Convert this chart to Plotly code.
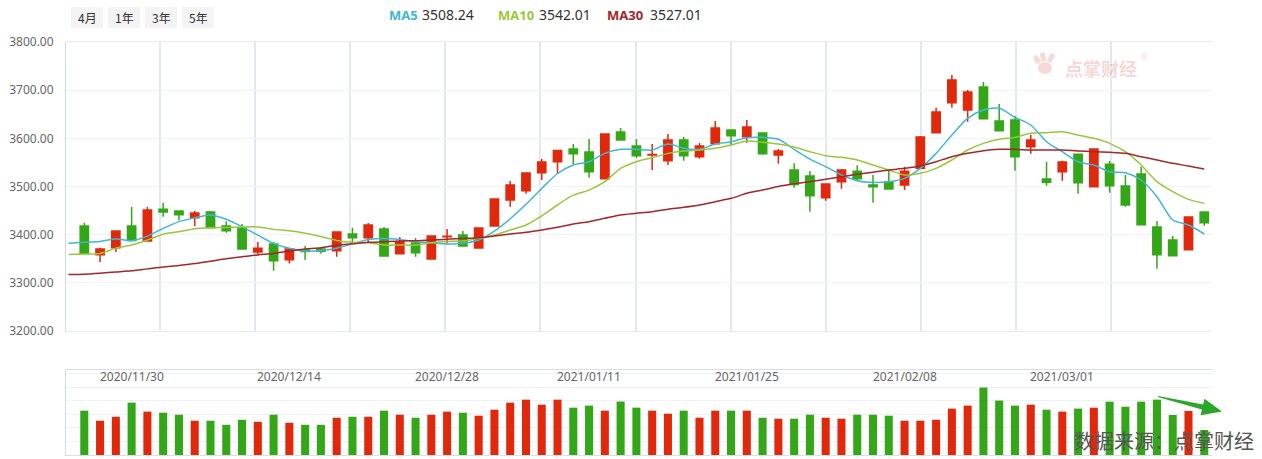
import plotly.graph_objects as go

# ---------------- data ----------------
# first date is only partly in view: its candle lies outside, its MA values start the lines
dates = [
    "2020/11/24",
    "2020/11/25", "2020/11/26", "2020/11/27", "2020/11/30",
    "2020/12/01", "2020/12/02", "2020/12/03", "2020/12/04",
    "2020/12/07", "2020/12/08", "2020/12/09", "2020/12/10", "2020/12/11",
    "2020/12/14", "2020/12/15", "2020/12/16", "2020/12/17", "2020/12/18",
    "2020/12/21", "2020/12/22", "2020/12/23", "2020/12/24", "2020/12/25",
    "2020/12/28", "2020/12/29", "2020/12/30", "2020/12/31",
    "2021/01/04", "2021/01/05", "2021/01/06", "2021/01/07", "2021/01/08",
    "2021/01/11", "2021/01/12", "2021/01/13", "2021/01/14", "2021/01/15",
    "2021/01/18", "2021/01/19", "2021/01/20", "2021/01/21", "2021/01/22",
    "2021/01/25", "2021/01/26", "2021/01/27", "2021/01/28", "2021/01/29",
    "2021/02/01", "2021/02/02", "2021/02/03", "2021/02/04", "2021/02/05",
    "2021/02/08", "2021/02/09", "2021/02/10", "2021/02/18", "2021/02/19",
    "2021/02/22", "2021/02/23", "2021/02/24", "2021/02/25", "2021/02/26",
    "2021/03/01", "2021/03/02", "2021/03/03", "2021/03/04", "2021/03/05",
    "2021/03/08", "2021/03/09", "2021/03/10", "2021/03/11", "2021/03/12",
]

opens = [None,
         3418, 3358.5, 3373, 3418, 3387, 3453, 3449, 3435, 3447, 3418,
         3414.5, 3364, 3380.6, 3348, 3368, 3370, 3366.8, 3401.4, 3393.7, 3411.7,
         3360.5, 3382.7, 3349.4, 3395.5, 3399.3, 3372.3, 3418, 3471.9, 3491, 3528.7,
         3551.5, 3577.8, 3571.6, 3516.2, 3613.1, 3584, 3565.4, 3553.6, 3596.5, 3561.9,
         3588.9, 3617.3, 3603.4, 3611, 3565.4, 3534.2, 3521.8, 3476.8, 3510, 3531.5,
         3503, 3509.3, 3503.1, 3537.7, 3611.7, 3674, 3658.8, 3706.5, 3636, 3638,
         3582.7, 3515.6, 3530.8, 3566.8, 3499.6, 3546, 3501, 3526, 3415.9, 3388.9,
         3368.9, 3447]
highs = [None,
         3425, 3373, 3408, 3457.5, 3457.5, 3466, 3450, 3449, 3449, 3428,
         3422, 3385, 3385, 3370, 3376.5, 3374, 3405.5, 3414.5, 3424.2, 3415.9,
         3395, 3393, 3397.2, 3411.7, 3407.6, 3414, 3474, 3511.4, 3528, 3557,
         3575, 3588.2, 3598.6, 3609, 3621.4, 3598.6, 3588.2, 3609, 3602.7, 3590.3,
         3636, 3617.3, 3638, 3611, 3577.8, 3548.5, 3532.2, 3505.2, 3536.3, 3543.9,
         3523.9, 3535.6, 3541.2, 3604.8, 3663.6, 3731.5, 3700.3, 3716.9, 3671.3, 3646.3,
         3607.6, 3550.8, 3553.6, 3566.8, 3577.8, 3553, 3523.9, 3541.2, 3428.4, 3397.2,
         3436.7, 3447]
lows = [None,
        3361, 3343, 3364, 3388, 3387, 3437, 3430, 3418, 3414, 3404,
        3370, 3358.5, 3325, 3340, 3347.5, 3360.5, 3354.4, 3383.4, 3382.7, 3354.3,
        3360.5, 3354.3, 3348, 3382, 3376, 3372, 3418, 3458, 3485, 3513.5,
        3526, 3546.7, 3518.3, 3516, 3596.5, 3559.8, 3534.2, 3544.6, 3553.6, 3557.7,
        3588.9, 3586, 3591, 3566, 3547.4, 3497.5, 3447.8, 3470.6, 3495.5, 3510.7,
        3466.4, 3493.4, 3492.7, 3537.7, 3611.7, 3663.6, 3634.6, 3640.8, 3615.9, 3532.9,
        3568.1, 3501.7, 3512.1, 3485.1, 3499.6, 3487.2, 3458.1, 3420.7, 3329.4, 3356.4,
        3368.9, 3418.7]
closes = [None,
          3361, 3370, 3407.6, 3388, 3451, 3447, 3441.5, 3445, 3414.5, 3408,
          3370, 3372, 3346, 3370, 3365, 3365.5, 3405.5, 3393.8, 3420, 3355.7,
          3385.4, 3362.6, 3397.2, 3396.5, 3376.4, 3413.8, 3474, 3503, 3528, 3550.8,
          3575, 3568.1, 3530.8, 3609, 3596.5, 3564, 3566.5, 3596.5, 3564, 3584,
          3621.4, 3605.5, 3623.5, 3568.1, 3573.7, 3504, 3481, 3505.2, 3534.2, 3516.2,
          3499.6, 3494.8, 3531.5, 3602.7, 3654.6, 3721, 3696.2, 3640.8, 3615.9, 3561.9,
          3596.5, 3508.6, 3550.8, 3508, 3577.8, 3501.7, 3461.6, 3420.7, 3358.5, 3356.4,
          3436.7, 3424.9]
volumes = [None,
           3.26, 2.52, 2.81, 3.85, 3.19, 3.11, 2.96, 2.52, 2.52, 2.22,
           2.59, 2.44, 2.96, 2.37, 2.22, 2.22, 2.74, 2.81, 2.81, 3.26,
           2.96, 2.74, 2.96, 3.19, 3.11, 2.89, 3.33, 3.85, 4.07, 3.70,
           4.07, 3.48, 3.63, 3.26, 3.93, 3.48, 3.26, 3.04, 3.26, 2.74,
           3.26, 3.26, 3.26, 2.74, 2.67, 2.67, 2.96, 2.74, 2.67, 2.96,
           2.96, 2.89, 2.52, 2.52, 2.59, 3.41, 3.63, 4.96, 4.00, 3.63,
           3.70, 3.33, 3.19, 3.41, 3.48, 3.92, 3.55, 3.92, 4.07, 2.94,
           3.24, 1.84]
ma5 = [3382,
       3384, 3386, 3391, 3387.5, 3397, 3413, 3427, 3435, 3441, 3432,
       3416.6, 3399, 3382, 3372, 3366, 3367, 3372, 3381, 3390, 3392.3,
       3390, 3385.4, 3383.3, 3380.6, 3382, 3389, 3407.6, 3433, 3463, 3496,
       3527, 3544.6, 3551.5, 3568.8, 3577.1, 3577.1, 3575.7, 3588.2, 3579.2, 3577.1,
       3588.2, 3593, 3601.3, 3602, 3598, 3577, 3557, 3541.2, 3523.9, 3512.1,
       3508.6, 3510, 3516.9, 3537.7, 3568.8, 3606.9, 3641.5, 3658.8, 3662.3, 3643.6,
       3627.7, 3593, 3572.3, 3551.5, 3544.6, 3530.8, 3528.7, 3513.5, 3478.9, 3430.4,
       3420, 3401.4]
ma10 = [3359,
        3360, 3361, 3372, 3378.6, 3389, 3401, 3406, 3412.5, 3414.5, 3415,
        3416, 3416, 3411, 3408, 3403, 3396, 3388, 3384, 3383.3, 3378.5,
        3378.5, 3378.5, 3383.3, 3386, 3386.8, 3392.3, 3399.3, 3409.6, 3420, 3439,
        3461.6, 3482, 3492.5, 3510, 3537.7, 3551.5, 3559.8, 3568.8, 3573.7, 3575.7,
        3579.2, 3586.1, 3594.4, 3591.7, 3588, 3582, 3572.3, 3564, 3560.5, 3555,
        3544.6, 3534.2, 3523.9, 3527.3, 3537.7, 3555, 3575.8, 3589.6, 3597.9, 3602,
        3610.4, 3611.7, 3613.8, 3606.9, 3600, 3589.6, 3572.3, 3544.6, 3510, 3489.3,
        3473.3, 3465]
ma30 = [3317.5,
        3318, 3320, 3322.5, 3325, 3329, 3333, 3336, 3340, 3345, 3350,
        3354, 3358, 3361, 3366, 3370, 3373, 3378, 3381, 3384, 3385.4,
        3386.8, 3387.5, 3389, 3390.3, 3392.3, 3393.7, 3397.2, 3401.3, 3404.8, 3409.6,
        3415.2, 3422, 3427, 3433.9, 3440.8, 3444.3, 3447.7, 3452.6, 3456.7, 3461.6,
        3468.5, 3475.4, 3485.8, 3492.7, 3500, 3505.5, 3510, 3514.9, 3520.4, 3525.2,
        3529.4, 3534.2, 3537.7, 3542.5, 3551.5, 3561.9, 3568.8, 3574.4, 3577.1, 3577.1,
        3575.8, 3575.8, 3575.8, 3573.7, 3572.3, 3570.9, 3568.8, 3561.9, 3555, 3548.1,
        3542.5, 3536.3]

axis_dates = ["2020/11/30", "2020/12/14", "2020/12/28", "2021/01/11",
              "2021/01/25", "2021/02/08", "2021/03/01"]
ma_names = ["MA5", "MA10", "MA30"]
ma_legend_values = ["3508.24", "3542.01", "3527.01"]
y_ticks = [3200, 3300, 3400, 3500, 3600, 3700, 3800]
range_buttons = ["4月", "1年", "3年", "5年"]
source_text = "数据来源：点掌财经"
logo_text = "点掌财经"

# ---------------- style ----------------
RED = "#e0290c"
GREEN = "#34a718"
MA_COLORS = ["#3fb5d8", "#99c73c", "#a3262a"]
LOGO = "rgba(225,110,110,0.28)"
W, H = 1262, 459
L, R, T, B = 66, 50, 42, 4
PW, PH = W - L - R, H - T - B


def px_x(px):
    return (px - L) / PW


def px_y(py):
    return (H - B - py) / PH


x = list(range(len(dates)))
x_range = [-0.16, 72.49]
grid_x = [5.8 + 6.03 * k for k in range(11)]

fig = go.Figure()

fig.add_trace(go.Candlestick(
    x=x, open=opens, high=highs, low=lows, close=closes,
    increasing=dict(line=dict(color=RED, width=1.5), fillcolor=RED),
    decreasing=dict(line=dict(color=GREEN, width=1.5), fillcolor=GREEN),
    whiskerwidth=0, xaxis="x", yaxis="y", hoverinfo="skip", showlegend=False,
))

for name, vals, col in zip(ma_names, [ma5, ma10, ma30], MA_COLORS):
    fig.add_trace(go.Scatter(
        x=x, y=vals, mode="lines", name=name,
        line=dict(color=col, width=1.5, shape="spline", smoothing=0.8),
        xaxis="x", yaxis="y", hoverinfo="skip", showlegend=False,
    ))

vol_colors = [RED if (o is not None and c >= o) else GREEN for o, c in zip(opens, closes)]
fig.add_trace(go.Bar(
    x=x, y=volumes, marker=dict(color=vol_colors, line=dict(width=0)),
    width=0.51, xaxis="x2", yaxis="y2", hoverinfo="skip", showlegend=False,
))

annotations = []
shapes = []

# date labels inside the volume panel
for d in axis_dates:
    annotations.append(dict(
        x=dates.index(d), y=px_y(376), xref="x2", yref="paper",
        text=d, showarrow=False, xanchor="center", yanchor="middle",
        font=dict(size=12, color="#666666", family="Noto Sans"),
    ))

# range buttons
btn_left = [71, 108, 145, 182]
for lbl, bx in zip(range_buttons, btn_left):
    shapes.append(dict(
        type="rect", xref="paper", yref="paper",
        x0=px_x(bx), x1=px_x(bx + 32), y0=px_y(28), y1=px_y(7),
        fillcolor="#f4f4f4", line=dict(width=0), layer="below",
    ))
    annotations.append(dict(
        x=px_x(bx + 16), y=px_y(17.5), xref="paper", yref="paper",
        text=lbl, showarrow=False, xanchor="center", yanchor="middle",
        font=dict(size=12, color="#333333", family="Noto Sans CJK SC"),
    ))

# MA legend
leg_pos = [(387, 420), (496, 537), (605, 648)]
for name, val, col, (lx, vx) in zip(ma_names, ma_legend_values, MA_COLORS, leg_pos):
    annotations.append(dict(
        x=px_x(lx), y=px_y(15), xref="paper", yref="paper", text="<b>%s</b>" % name,
        showarrow=False, xanchor="left", yanchor="middle",
        font=dict(size=13, color=col, family="Noto Sans"),
    ))
    annotations.append(dict(
        x=px_x(vx), y=px_y(15), xref="paper", yref="paper", text=val,
        showarrow=False, xanchor="left", yanchor="middle",
        font=dict(size=14, color="#333333", family="Noto Sans"),
    ))

# logo watermark
annotations.append(dict(
    x=px_x(1101), y=px_y(68), xref="paper", yref="paper", text="<b>%s</b>" % logo_text,
    showarrow=False, xanchor="center", yanchor="middle",
    font=dict(size=18, color=LOGO, family="Noto Sans CJK SC"),
))
annotations.append(dict(
    x=px_x(1144), y=px_y(56), xref="paper", yref="paper", text="®",
    showarrow=False, xanchor="center", yanchor="middle",
    font=dict(size=8, color=LOGO, family="Noto Sans"),
))
for (x0, y0, x1, y1) in [(1035, 56, 1039, 63), (1042, 53, 1044, 61), (1053, 54, 1049, 62)]:
    shapes.append(dict(type="line", xref="paper", yref="paper",
                       x0=px_x(x0), y0=px_y(y0), x1=px_x(x1), y1=px_y(y1),
                       line=dict(color=LOGO, width=5)))
shapes.append(dict(type="circle", xref="paper", yref="paper",
                   x0=px_x(1038), x1=px_x(1052), y0=px_y(74), y1=px_y(62),
                   fillcolor=LOGO, line=dict(width=0)))

# source text
annotations.append(dict(
    x=px_x(1256), y=px_y(440), xref="paper", yref="paper", text=source_text,
    showarrow=False, xanchor="right", yanchor="middle",
    font=dict(size=20, color="#555555", family="Noto Sans CJK SC"),
))

# green arrow (tapered shaft + head)
sx, sy = 1158.0, 396.5
tx, ty = 1222.0, 411.5
dx, dy = tx - sx, ty - sy
ln = (dx ** 2 + dy ** 2) ** 0.5
ux, uy = dx / ln, dy / ln
nx, ny = -uy, ux
hl, hw = 20.0, 8.5
bx_, by_ = tx - hl * ux, ty - hl * uy
pts = [
    (sx + 0.6 * nx, sy + 0.6 * ny),
    (bx_ + 2.6 * nx, by_ + 2.6 * ny),
    (bx_ + hw * nx, by_ + hw * ny),
    (tx, ty),
    (bx_ - hw * nx, by_ - hw * ny),
    (bx_ - 2.6 * nx, by_ - 2.6 * ny),
    (sx - 0.6 * nx, sy - 0.6 * ny),
]
path = "M " + " L ".join("%.5f,%.5f" % (px_x(px), px_y(py)) for px, py in pts) + " Z"
shapes.append(dict(type="path", xref="paper", yref="paper", path=path,
                   fillcolor="#2aa62a", line=dict(width=0), layer="above"))

fig.update_layout(
    template="none",
    width=W, height=H,
    margin=dict(l=L, r=R, t=T, b=B, pad=0, autoexpand=False),
    paper_bgcolor="white", plot_bgcolor="white",
    showlegend=False,
    boxgap=0.3, boxgroupgap=0.25,
    xaxis=dict(
        domain=[0, 1], range=x_range, anchor="y", automargin=False,
        tickvals=grid_x, showticklabels=False, ticks="",
        showgrid=True, gridcolor="#e3e8f0", gridwidth=1.5,
        zeroline=False, showline=True, linecolor="#e6eaf0", mirror=True,
        rangeslider=dict(visible=False), fixedrange=True,
    ),
    yaxis=dict(
        domain=[px_y(331), 1], range=[3200, 3800], anchor="x", automargin=False,
        tickvals=y_ticks, tickformat=".2f", ticks="",
        showgrid=True, gridcolor="#eff2f6", gridwidth=1,
        zeroline=False, showline=True, linecolor="#d3dbe9",
        tickfont=dict(size=12, color="#666666", family="Noto Sans"),
        ticklabelstandoff=9, fixedrange=True,
    ),
    xaxis2=dict(
        domain=[0, 1], range=x_range, anchor="y2", automargin=False,
        showticklabels=False, ticks="", showgrid=False,
        zeroline=False, showline=True, linecolor="#d8dfea", mirror=True,
        fixedrange=True,
    ),
    yaxis2=dict(
        domain=[0, px_y(370)], range=[0, 6.25], dtick=1, anchor="x2", automargin=False,
        showticklabels=False, ticks="", showgrid=True, gridcolor="#eef1f6",
        zeroline=False, showline=True, linecolor="#d3dbe9", fixedrange=True,
    ),
    annotations=annotations,
    shapes=shapes,
)

fig.write_html("out.html", config={"displayModeBar": False})
